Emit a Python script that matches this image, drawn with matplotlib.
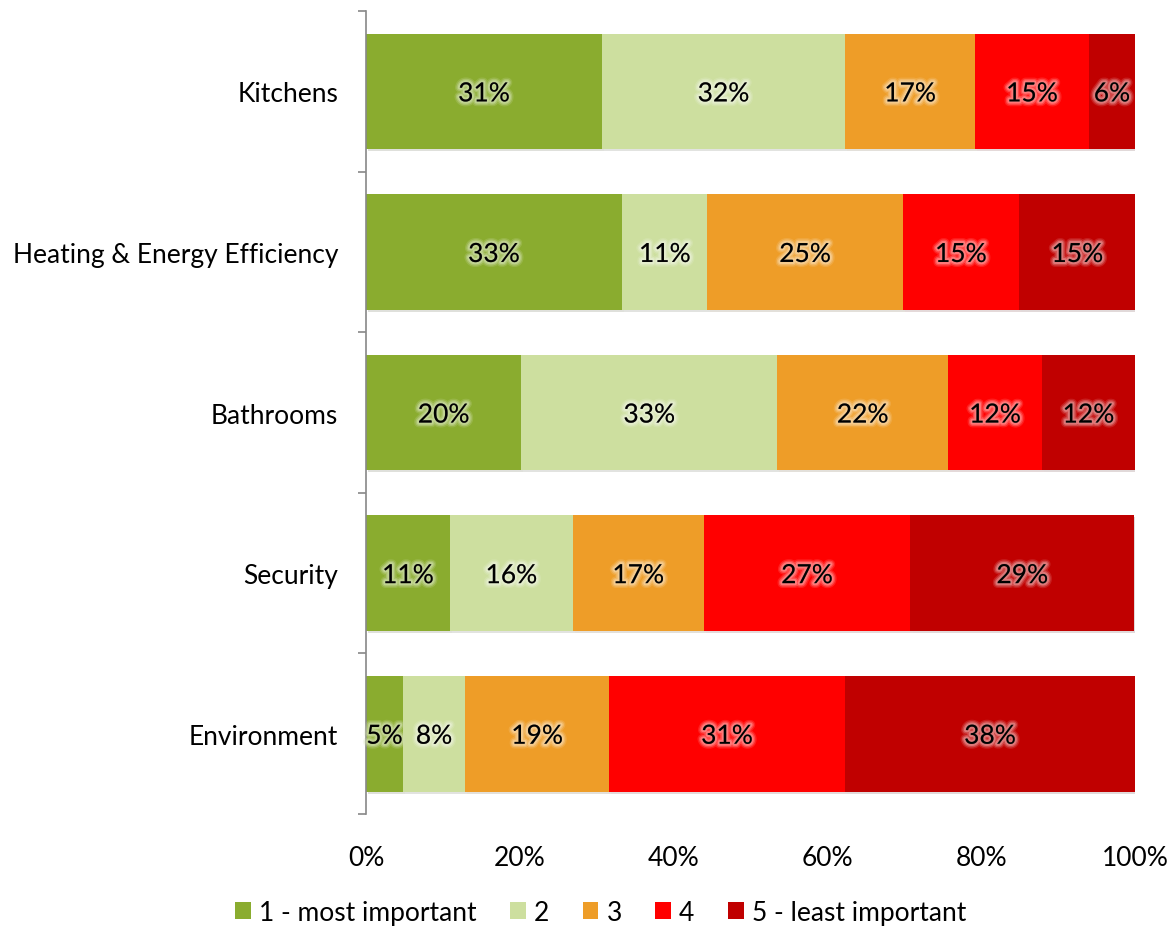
import matplotlib
matplotlib.use("Agg")
from matplotlib import pyplot as plt
from matplotlib import patheffects as pe
from matplotlib.patches import Patch
from matplotlib.colors import to_rgb

plt.rcParams['font.family'] = ['Lato', 'DejaVu Sans']

categories = ["Kitchens", "Heating & Energy Efficiency", "Bathrooms",
              "Security", "Environment"]
series_names = ["1 - most important", "2", "3", "4", "5 - least important"]
colors = ["#8AAC2F", "#CDDF9F", "#EE9D28", "#FF0000", "#C00000"]

# share of answers per category (percent), one list per rating
s1 = [30.7, 33.3, 20.2, 10.9, 4.8]
s2 = [31.6, 11.1, 33.3, 16.0, 8.1]
s3 = [16.9, 25.4, 22.2, 17.0, 18.7]
s4 = [14.8, 15.1, 12.2, 26.9, 30.7]
s5 = [6.0, 15.2, 12.1, 29.1, 37.7]
series = [s1, s2, s3, s4, s5]

x_ticks = [0, 20, 40, 60, 80, 100]
x_labels = ["{}%".format(v) for v in x_ticks]


def lighter(c, f=0.6):
    r, g, b = to_rgb(c)
    return (r + (1 - r) * f, g + (1 - g) * f, b + (1 - b) * f)


def glow(c):
    lc = lighter(c)
    return [pe.withStroke(linewidth=7, foreground=lc, alpha=0.2),
            pe.withStroke(linewidth=5, foreground=lc, alpha=0.35),
            pe.withStroke(linewidth=3, foreground=lc, alpha=0.6)]


fig = plt.figure(figsize=(11.73, 9.29), dpi=100)
ax = fig.add_axes([0.312, 0.1227, 0.6556, 0.8643])

ypos = list(range(len(categories)))
left = [0.0] * len(categories)
for name, vals, col in zip(series_names, series, colors):
    bars = ax.barh(ypos, vals, left=left, height=0.72, color=col,
                   label=name, zorder=2)
    for b in bars:
        b.set_path_effects([pe.SimplePatchShadow(offset=(1.5, -1.5),
                                                 alpha=0.15),
                            pe.Normal()])
    for y, v, l in zip(ypos, vals, left):
        ax.text(l + v / 2, y, "{:.0f}%".format(v), ha="center",
                va="center_baseline", fontsize=19, color="black", zorder=3,
                path_effects=glow(col))
    left = [a + b for a, b in zip(left, vals)]

ax.set_xlim(0, 100)
ax.set_ylim(len(categories) - 0.5, -0.5)
ax.set_xticks(x_ticks)
ax.set_xticklabels(x_labels, fontsize=19)
ax.set_yticks(ypos)
ax.set_yticklabels(categories, fontsize=19)
ax.set_yticks([i - 0.5 for i in range(len(categories) + 1)], minor=True)
ax.tick_params(axis="y", which="major", length=0, pad=20)
ax.tick_params(axis="y", which="minor", length=6, color="#888888", width=1.2)
ax.tick_params(axis="x", length=0, pad=22)

for s in ["top", "right", "bottom"]:
    ax.spines[s].set_visible(False)
ax.spines["left"].set_color("#888888")
ax.spines["left"].set_linewidth(1.2)

handles = [Patch(facecolor=c, label=n) for c, n in zip(colors, series_names)]
fig.legend(handles=handles, loc="center", bbox_to_anchor=(0.512, 0.0172),
           ncol=5, frameon=False, fontsize=19, handlelength=0.6,
           handleheight=0.6, handletextpad=0.3, columnspacing=1.27)

plt.savefig("out.png", dpi=100)
